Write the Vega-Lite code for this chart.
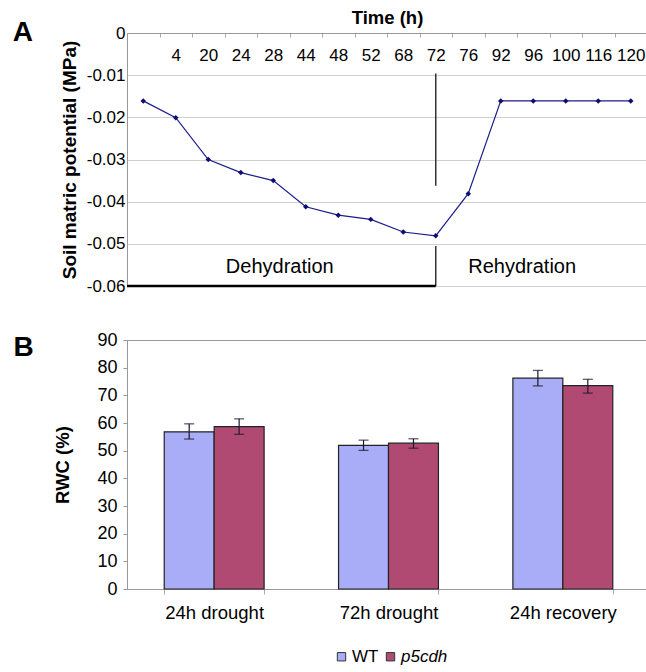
{
  "$schema": "https://vega.github.io/schema/vega-lite/v6.json",
  "padding": {"left": 12, "top": 8, "right": 0, "bottom": 0},
  "spacing": 36,
  "config": {
    "font": "Liberation Sans",
    "view": {"stroke": null},
    "axis": {"labelColor": "#000", "titleColor": "#000", "labelFont": "Liberation Sans", "titleFont": "Liberation Sans"},
    "title": {"font": "Liberation Sans", "color": "#000"}
  },
  "vconcat": [
    {
      "width": 520,
      "height": 253,
      "title": {"text": "A", "orient": "left", "anchor": "end", "frame": "group", "angle": 0, "align": "right", "baseline": "middle", "fontSize": 28, "fontWeight": "bold", "offset": 7},
      "layer": [
        {
          "data": {"values": [
            {"time": "0", "mp": -0.0161},
            {"time": "4", "mp": -0.0201},
            {"time": "20", "mp": -0.0300},
            {"time": "24", "mp": -0.0331},
            {"time": "28", "mp": -0.0350},
            {"time": "44", "mp": -0.0412},
            {"time": "48", "mp": -0.0432},
            {"time": "52", "mp": -0.0442},
            {"time": "68", "mp": -0.0472},
            {"time": "72", "mp": -0.0481},
            {"time": "76", "mp": -0.0381},
            {"time": "92", "mp": -0.0161},
            {"time": "96", "mp": -0.0161},
            {"time": "100", "mp": -0.0161},
            {"time": "116", "mp": -0.0161},
            {"time": "120", "mp": -0.0161}
          ]},
          "mark": {"type": "line", "color": "#1c1c8a", "strokeWidth": 1.2, "point": {"shape": "diamond", "filled": true, "color": "#0d0d73", "size": 30}},
          "encoding": {
            "x": {
              "field": "time", "type": "ordinal", "sort": null,
              "scale": {"type": "band", "domain": ["0","4","20","24","28","44","48","52","68","72","76","92","96","100","116","120"], "paddingInner": 0, "paddingOuter": 0},
              "axis": {
                "orient": "top", "title": "Time (h)", "titleFontSize": 18.5, "titleFontWeight": "bold", "titlePadding": 5,
                "labelExpr": "datum.value == '0' ? '' : datum.value",
                "labelAngle": 0, "labelFontSize": 17, "labelBaseline": "middle", "labelPadding": -18.5,
                "tickBand": "extent", "tickSize": -4, "tickColor": "#aaa", "domainColor": "#999", "grid": false
              }
            },
            "y": {
              "field": "mp", "type": "quantitative",
              "scale": {"domain": [-0.06, 0], "nice": false, "zero": false},
              "axis": {
                "values": [-0.06, -0.05, -0.04, -0.03, -0.02, -0.01, 0],
                "labelExpr": "datum.value == 0 ? '0' : '-' + format(abs(datum.value), '.2f')",
                "labelFontSize": 17, "labelPadding": 2, "ticks": false,
                "grid": true, "gridColor": "#cfcfcf", "domainColor": "#999",
                "title": "Soil matric potential (MPa)", "titleFontSize": 19, "titleFontWeight": "bold", "titlePadding": 7
              }
            }
          }
        },
        {
          "data": {"values": [
            {"time": "72", "top": -0.0096, "bottom": -0.0362},
            {"time": "72", "top": -0.0505, "bottom": -0.06}
          ]},
          "mark": {"type": "rule", "color": "#333", "strokeWidth": 1.5},
          "encoding": {
            "x": {"field": "time", "type": "ordinal"},
            "y": {"field": "top", "type": "quantitative"},
            "y2": {"field": "bottom"}
          }
        },
        {
          "data": {"values": [{"from": "0", "to": "72", "mp": -0.06}]},
          "mark": {"type": "rule", "color": "#000", "strokeWidth": 2.5},
          "encoding": {
            "x": {"field": "from", "type": "ordinal", "bandPosition": 0},
            "x2": {"field": "to"},
            "y": {"field": "mp", "type": "quantitative"}
          }
        },
        {
          "data": {"values": [{"time": "28", "mp": -0.0568, "label": "Dehydration"}]},
          "mark": {"type": "text", "fontSize": 20, "align": "center", "baseline": "alphabetic", "color": "#000"},
          "encoding": {
            "x": {"field": "time", "type": "ordinal", "bandPosition": 0.7},
            "y": {"field": "mp", "type": "quantitative"},
            "text": {"field": "label"}
          }
        },
        {
          "data": {"values": [{"time": "96", "mp": -0.0568, "label": "Rehydration"}]},
          "mark": {"type": "text", "fontSize": 20, "align": "center", "baseline": "alphabetic", "color": "#000"},
          "encoding": {
            "x": {"field": "time", "type": "ordinal", "bandPosition": 0.16},
            "y": {"field": "mp", "type": "quantitative"},
            "text": {"field": "label"}
          }
        }
      ]
    },
    {
      "width": 523,
      "height": 249,
      "view": {"stroke": "#999", "strokeWidth": 1},
      "title": {"text": "B", "orient": "left", "anchor": "end", "frame": "group", "angle": 0, "align": "right", "baseline": "middle", "fontSize": 28, "fontWeight": "bold", "offset": 0, "dy": 8},
      "data": {"values": [
        {"group": "24h drought", "geno": "WT", "rwc": 56.8, "lo": 54.2, "hi": 59.7},
        {"group": "24h drought", "geno": "p5cdh", "rwc": 58.7, "lo": 55.9, "hi": 61.5},
        {"group": "72h drought", "geno": "WT", "rwc": 51.9, "lo": 50.1, "hi": 53.8},
        {"group": "72h drought", "geno": "p5cdh", "rwc": 52.7, "lo": 50.9, "hi": 54.3},
        {"group": "24h recovery", "geno": "WT", "rwc": 76.2, "lo": 73.4, "hi": 79.0},
        {"group": "24h recovery", "geno": "p5cdh", "rwc": 73.5, "lo": 70.8, "hi": 75.8}
      ]},
      "encoding": {
        "x": {
          "field": "group", "type": "nominal", "sort": null,
          "scale": {"type": "band", "paddingInner": 0.427, "paddingOuter": 0.2135},
          "axis": {"title": null, "labelAngle": 0, "labelFontSize": 18.5, "labelPadding": 9, "tickBand": "extent", "tickSize": 5, "tickColor": "#aaa", "domainColor": "#999"}
        },
        "xOffset": {"field": "geno", "type": "nominal", "sort": ["WT", "p5cdh"], "scale": {"paddingInner": 0, "paddingOuter": 0}}
      },
      "layer": [
        {
          "mark": {"type": "bar", "stroke": "#222", "strokeWidth": 1.2},
          "encoding": {
            "y": {
              "field": "rwc", "type": "quantitative",
              "scale": {"domain": [0, 90], "nice": false},
              "axis": {"values": [0,10,20,30,40,50,60,70,80,90], "labelOverlap": false, "labelFontSize": 18, "labelPadding": 6, "tickSize": 4, "tickColor": "#999", "domainColor": "#999", "grid": false,
                "title": "RWC (%)", "titleFontSize": 18.5, "titleFontWeight": "bold", "titlePadding": 24}
            },
            "color": {
              "field": "geno", "type": "nominal", "sort": ["WT", "p5cdh"],
              "scale": {"domain": ["WT", "p5cdh"], "range": ["#a9acf6", "#b04a73"]},
              "legend": {
                "title": null, "orient": "none", "legendX": 206, "legendY": 615, "direction": "horizontal",
                "symbolType": "square", "symbolSize": 70, "symbolStrokeColor": "#333", "symbolStrokeWidth": 1,
                "labelFontSize": 17, "labelOffset": 2, "columnPadding": 3,
                "labelFontStyle": {"expr": "datum.label == 'p5cdh' ? 'italic' : 'normal'"}
              }
            }
          }
        },
        {
          "mark": {"type": "rule", "color": "#1a1a2a", "strokeWidth": 1.2},
          "encoding": {
            "y": {
              "field": "lo", "type": "quantitative",
              "scale": {"domain": [0, 90], "nice": false},
              "axis": {"values": [0,10,20,30,40,50,60,70,80,90], "labelOverlap": false, "labelFontSize": 18, "labelPadding": 6, "tickSize": 4, "tickColor": "#999", "domainColor": "#999", "grid": false,
                "title": "RWC (%)", "titleFontSize": 18.5, "titleFontWeight": "bold", "titlePadding": 24}
            },
            "y2": {"field": "hi"}
          }
        },
        {
          "mark": {"type": "tick", "color": "#1a1a2a", "size": 10, "thickness": 1.3},
          "encoding": {"y": {
              "field": "lo", "type": "quantitative",
              "scale": {"domain": [0, 90], "nice": false},
              "axis": {"values": [0,10,20,30,40,50,60,70,80,90], "labelOverlap": false, "labelFontSize": 18, "labelPadding": 6, "tickSize": 4, "tickColor": "#999", "domainColor": "#999", "grid": false,
                "title": "RWC (%)", "titleFontSize": 18.5, "titleFontWeight": "bold", "titlePadding": 24}
            }}
        },
        {
          "mark": {"type": "tick", "color": "#1a1a2a", "size": 10, "thickness": 1.3},
          "encoding": {"y": {
              "field": "hi", "type": "quantitative",
              "scale": {"domain": [0, 90], "nice": false},
              "axis": {"values": [0,10,20,30,40,50,60,70,80,90], "labelOverlap": false, "labelFontSize": 18, "labelPadding": 6, "tickSize": 4, "tickColor": "#999", "domainColor": "#999", "grid": false,
                "title": "RWC (%)", "titleFontSize": 18.5, "titleFontWeight": "bold", "titlePadding": 24}
            }}
        }
      ]
    }
  ]
}
